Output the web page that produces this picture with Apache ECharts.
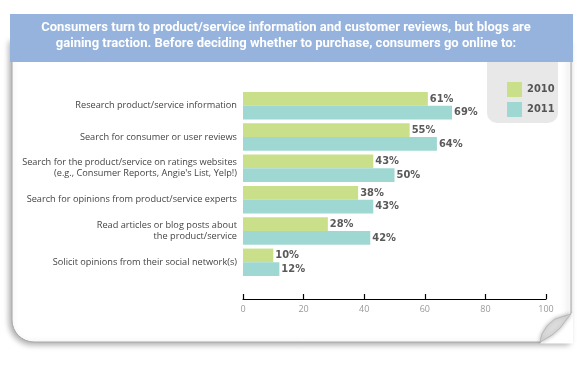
<!DOCTYPE html>
<html>
<head>
<meta charset="utf-8">
<script src="https://cdn.jsdelivr.net/npm/echarts@6/dist/echarts.min.js"></script>
<style>html,body{margin:0;padding:0;background:#fff;}#c{width:577px;height:368px;}</style>
</head>
<body>
<div id="c"></div>
<script>
const categories = [
  "Research product/service information",
  "Search for consumer or user reviews",
  "Search for the product/service on ratings websites\n(e.g., Consumer Reports, Angie's List, Yelp!)",
  "Search for opinions from product/service experts",
  "Read articles or blog posts about\nthe product/service",
  "Solicit opinions from their social network(s)"
];
const values2010 = [61, 55, 43, 38, 28, 10];
const values2011 = [69, 64, 50, 43, 42, 12];
const seriesNames = ["2010", "2011"];
const xTicks = [0, 20, 40, 60, 80, 100];
const titleLines = [
  "Consumers turn to product/service information and customer reviews, but blogs are",
  "gaining traction. Before deciding whether to purchase, consumers go online to:"
];

const chart = echarts.init(document.getElementById('c'), null, {renderer: 'canvas'});
const valueLabel = {
  show: true, position: 'right', distance: 2,
  formatter: '{c}%', color: '#5a5a5a', fontSize: 11, fontWeight: 'bold',
  fontFamily: 'DejaVu Sans Condensed, sans-serif'
};
chart.setOption({
  animation: false,
  graphic: [
    {type: 'rect', z: -10, shape: {x: 12, y: 40, width: 559, height: 302, r: [0, 0, 0, 22]},
      style: {fill: '#fff', stroke: '#a8a8a8', lineWidth: 1, shadowBlur: 6, shadowColor: 'rgba(0,0,0,0.35)', shadowOffsetX: -2, shadowOffsetY: 2}},
    {type: 'polygon', z: -9, shape: {points: [[540, 343.5], [573, 343.5], [573, 313], [560, 318]]}, style: {fill: '#fff'}},
    {type: 'polygon', z: -8, shape: {points: [[540, 342], [542, 334], [547, 326], [555, 319], [571, 314], [566, 320], [560, 328], [552, 335]]},
      style: {fill: '#dcdcdc', stroke: '#b0b0b0', lineWidth: 0.8, shadowBlur: 4, shadowColor: 'rgba(0,0,0,0.3)'}},
    {type: 'rect', z: -7, shape: {x: 487, y: 50, width: 71, height: 73, r: 10}, style: {fill: '#e8e8e8'}},
    {type: 'rect', z: -5, shape: {x: 10, y: 14, width: 563, height: 48}, style: {fill: '#96b3dd'}},
    {type: 'text', z: 5, x: 286, y: 21, style: {text: titleLines[0], fill: '#fff', fontSize: 13, fontWeight: 'bold', fontFamily: 'Liberation Sans Narrow, Roboto, sans-serif', align: 'center'}},
    {type: 'text', z: 5, x: 286, y: 37, style: {text: titleLines[1], fill: '#fff', fontSize: 13, fontWeight: 'bold', fontFamily: 'Liberation Sans Narrow, Roboto, sans-serif', align: 'center'}}
  ],
  legend: {
    data: seriesNames, orient: 'vertical', left: 502, top: 77, itemWidth: 15, itemHeight: 15, itemGap: 5,
    icon: 'rect',
    textStyle: {color: '#555', fontSize: 11, fontWeight: 'bold', fontFamily: 'DejaVu Sans Condensed, sans-serif'}
  },
  grid: {left: 243, right: 31, top: 90, height: 188, containLabel: false},
  xAxis: {
    type: 'value', min: 0, max: 100, interval: 20, offset: 21,
    axisLine: {show: true, lineStyle: {color: '#000', width: 1.2}},
    axisTick: {show: true, inside: true, length: 5, lineStyle: {color: '#000', width: 1.2}},
    splitLine: {show: false},
    axisLabel: {color: '#999', fontSize: 9, margin: 6, fontFamily: 'Open Sans, sans-serif',
      formatter: v => xTicks.includes(v) ? String(v) : ''}
  },
  yAxis: {
    type: 'category', data: categories, inverse: true,
    axisLine: {show: false}, axisTick: {show: false},
    axisLabel: {color: '#444', fontSize: 9.2, margin: 6, lineHeight: 11, align: 'right', fontFamily: 'Open Sans, sans-serif'}
  },
  series: [
    {name: seriesNames[0], type: 'bar', data: values2010, barGap: '0%', barCategoryGap: '12%',
      itemStyle: {color: '#c9df8a'}, label: valueLabel},
    {name: seriesNames[1], type: 'bar', data: values2011, barGap: '0%', barCategoryGap: '12%',
      itemStyle: {color: '#9fd8d2'}, label: valueLabel}
  ]
});
</script>
</body>
</html>
